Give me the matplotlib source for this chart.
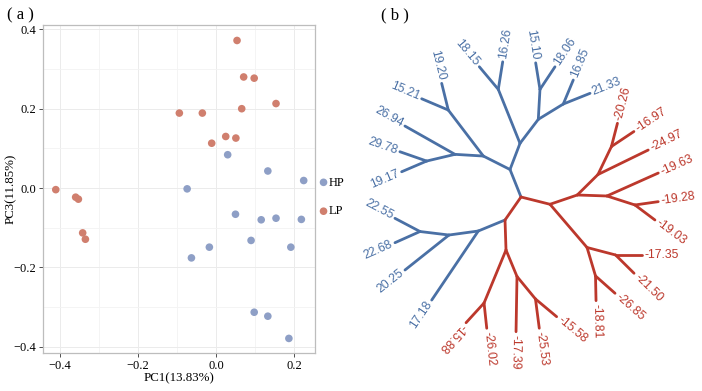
import numpy as np
import matplotlib
matplotlib.use('Agg')
import matplotlib.pyplot as plt
from matplotlib.ticker import MultipleLocator

# ---------------- panel (a) data ----------------
hp_pc1 = [0.030, 0.133, 0.225, -0.074, 0.050, 0.116, 0.154, 0.219, 0.090, -0.017, -0.063, 0.192, 0.098, 0.133, 0.187]
hp_pc3 = [0.084, 0.043, 0.019, -0.002, -0.066, -0.080, -0.076, -0.079, -0.132, -0.149, -0.176, -0.149, -0.313, -0.323, -0.379]
lp_pc1 = [0.054, 0.071, 0.098, 0.154, 0.066, -0.094, -0.035, 0.025, 0.051, -0.011, -0.411, -0.360, -0.353, -0.342, -0.335]
lp_pc3 = [0.372, 0.280, 0.277, 0.213, 0.200, 0.189, 0.189, 0.130, 0.126, 0.113, -0.004, -0.023, -0.028, -0.113, -0.129]
groups = ['HP', 'LP']
xticks = [-0.4, -0.2, 0.0, 0.2]
yticks = [-0.4, -0.2, 0.0, 0.2, 0.4]
xlabel = 'PC1(13.83%)'
ylabel = 'PC3(11.85%)'

# ---------------- panel (b) tree data ----------------
# edges: parent, child, branch length, branch direction (degrees)
edge_parent = ['root', 'A', 'C', 'D', 'D', 'C', 'E', 'F', 'F', 'E', 'G', 'G',
               'A', 'H', 'J', 'J', 'H', 'I', 'I', 'K', 'K',
               'root', 'B', 'L', 'L', 'M', 'M', 'N', 'N',
               'B', 'O', 'P', 'P', 'O', 'Q', 'Q', 'R', 'R',
               'root', 'R1', 'T', 'Y', 'Z', 'Z', 'Y', 'T', 'U', 'U', 'W2', 'W2',
               'R1', 'V', 'W', 'W', 'V', 'X', 'X']
edge_child = ['A', 'C', 'D', '18.15', '16.26', 'E', 'F', '15.10', '18.06', 'G', '16.85', '21.33',
              'H', 'J', '19.20', '15.21', 'I', '26.94', 'K', '29.78', '19.17',
              'B', 'L', '17.18', 'M', '20.25', 'N', '22.55', '22.68',
              'O', 'P', '-15.88', '-26.02', 'Q', '-17.39', 'R', '-25.53', '-15.58',
              'R1', 'T', 'Y', 'Z', '-20.26', '-16.97', '-24.97', 'U', '-19.63', 'W2', '-19.28', '-19.03',
              'V', 'W', '-17.35', '-21.50', 'X', '-18.81', '-26.85']
edge_length = [29.6, 28.0, 58.2, 29.5, 27.9, 30.2, 30.0, 26.9, 27.1, 29.3, 26.0, 28.8,
               29.9, 57.8, 27.5, 28.9, 28.4, 57.5, 29.1, 28.3, 27.2,
               28.0, 28.9, 83.3, 29.6, 56.2, 29.2, 28.3, 27.4,
               30.0, 57.4, 26.7, 25.4, 28.7, 55.2, 29.1, 29.5, 27.6,
               29.9, 28.8, 29.1, 31.1, 24.0, 27.0, 55.9, 29.7, 56.2, 29.4, 23.5, 25.0,
               56.9, 29.5, 26.2, 26.0, 29.7, 24.7, 26.1]
edge_angle = [111.8, 69.1, 111.9, 130.0, 80.9, 52.7, 86.8, 99.2, 56.4, 31.5, 67.4, 21.8,
              153.2, 127.3, 103.9, 157.0, 176.6, 150.5, 193.3, 160.8, 203.2,
              235.2, 202.4, 236.0, 187.8, 218.5, 173.1, 152.2, 204.1,
              271.9, 247.5, 227.6, 276.1, 292.5, 269.0, 309.4, 277.4, 320.1,
              345.9, 18.8, 44.7, 64.3, 75.5, 33.7, 26.0, 358.1, 24.1, 342.2, 8.1, 323.1,
              310.6, 345.3, 0.0, 315.3, 286.6, 271.2, 318.4]
unflipped_labels = ['-15.88', '-17.39']

# ---------------- styling ----------------
serif = ['Liberation Serif', 'DejaVu Serif']
sans = ['Liberation Sans', 'DejaVu Sans']
hp_col = '#8E9FC6'
lp_col = '#D07F6E'
blue = '#4A70A5'
red = '#BC382C'

W, H = 702, 391
fig = plt.figure(figsize=(W / 100, H / 100), dpi=100)

# ---------------- panel (a) ----------------
ax = fig.add_axes([43.3 / W, 1 - 352.7 / H, (315 - 43.3) / W, (352.7 - 25) / H])
ax.set_xlim(-0.443, 0.254)
ax.set_ylim(-0.415, 0.411)
ax.xaxis.set_minor_locator(MultipleLocator(0.1))
ax.yaxis.set_minor_locator(MultipleLocator(0.1))
ax.set_xticks(xticks)
ax.set_yticks(yticks)
ax.set_xticklabels([f'{v:.1f}'.replace('-', '\u2212') for v in xticks], family=serif, fontsize=9)
ax.set_yticklabels([f'{v:.1f}'.replace('-', '\u2212') for v in yticks], family=serif, fontsize=9)
ax.grid(which='major', color='#EBEBEB', lw=0.7)
ax.grid(which='minor', color='#F3F3F3', lw=0.6)
ax.set_axisbelow(True)
ax.tick_params(which='major', direction='out', length=3, width=0.6, color='#333333', pad=2)
ax.tick_params(which='minor', length=0)
for s in ax.spines.values():
    s.set_color('#BDBDBD')
    s.set_linewidth(0.9)
ax.scatter(hp_pc1, hp_pc3, s=30, color=hp_col, edgecolors='none', label=groups[0], zorder=3)
ax.scatter(lp_pc1, lp_pc3, s=30, color=lp_col, edgecolors='none', label=groups[1], zorder=3)
ax.set_xlabel(xlabel, family=serif, fontsize=9.3)
ax.set_ylabel(ylabel, family=serif, fontsize=9.3)
ax.xaxis.set_label_coords(0.5, (352.7 - 372) / 327.7)
ax.yaxis.set_label_coords((17 - 43.3) / 271.7, 0.5)
leg = ax.legend(loc='center left', bbox_to_anchor=(0.99, 0.475), frameon=False,
                handlelength=0.6, handletextpad=0.1, labelspacing=1.35,
                prop={'family': serif, 'size': 9}, borderaxespad=0.2)
fig.text(20 / W, 1 - 15 / H, '( a )', family=serif, fontsize=12, ha='center', va='center')
fig.text(395 / W, 1 - 15 / H, '( b )', family=serif, fontsize=12, ha='center', va='center')

# ---------------- panel (b) ----------------
axt = fig.add_axes([360 / W, 0, (W - 360) / W, 1])
axt.set_xlim(360 - 521, W - 521)
axt.set_ylim(-(H - 197), 197)
axt.set_aspect('equal')
axt.axis('off')

pos = {'root': (0.0, 0.0)}
children = {}
for p, c in zip(edge_parent, edge_child):
    children.setdefault(p, []).append(c)

for p, c, L, a in zip(edge_parent, edge_child, edge_length, edge_angle):
    px, py = pos[p]
    t = np.deg2rad(a)
    pos[c] = (px + L * np.cos(t), py + L * np.sin(t))


def leaves_under(n):
    if n not in children:
        return [n]
    out = []
    for c in children[n]:
        out += leaves_under(c)
    return out


for p, c, a in zip(edge_parent, edge_child, edge_angle):
    lv = leaves_under(c)
    col = blue if all(not s.startswith('-') for s in lv) else red
    (x0, y0), (x1, y1) = pos[p], pos[c]
    axt.plot([x0, x1], [y0, y1], color=col, lw=2.0, solid_capstyle='round')
    if c not in children:
        t = np.deg2rad(a)
        off = 3.0
        tx, ty = x1 + off * np.cos(t), y1 + off * np.sin(t)
        ang = a % 360
        if 90 < ang < 270 and c not in unflipped_labels:
            rot, ha = ang - 180, 'right'
        else:
            rot, ha = ang, 'left'
        axt.text(tx, ty, c, rotation=rot, rotation_mode='anchor', ha=ha, va='center',
                 color=col, family=sans, fontsize=8.8)

fig.savefig('out.png', dpi=100)
